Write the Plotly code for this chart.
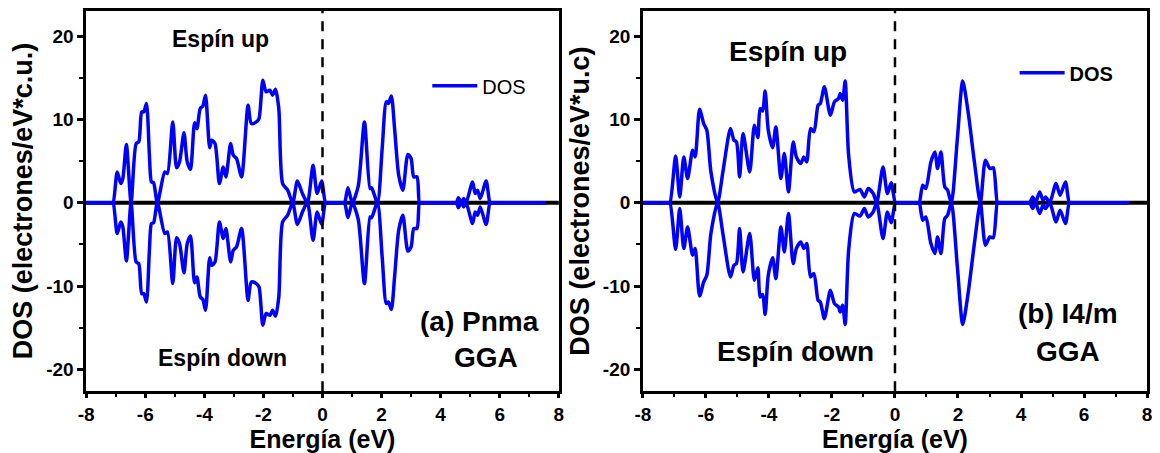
import plotly.graph_objects as go

# ---------------- data ----------------
# (a) Pnma, GGA : spin-up DOS (spin-down is the mirror image)
energy_a = [-8.0, -7.14, -7.09, -6.95, -6.83, -6.76, -6.64, -6.48, -6.31, -6.22, -6.12, -6.05, -5.96,
            -5.86, -5.79, -5.72, -5.59, -5.34, -5.25, -5.07, -4.94, -4.84, -4.69, -4.58, -4.47,
            -4.33, -4.25, -4.14, -4.05, -3.96, -3.82, -3.75, -3.64, -3.49, -3.36, -3.27, -3.11,
            -3.02, -2.91, -2.74, -2.52, -2.41, -2.24, -2.15, -2.02, -1.91, -1.78, -1.69, -1.59,
            -1.48, -1.35, -1.18, -1.01, -0.85, -0.68, -0.51, -0.32, -0.18, -0.03, 0.10, 0.15, 0.70, 0.75,
            0.86, 1.01, 1.21, 1.42, 1.61, 1.66, 1.86, 2.02, 2.16, 2.23, 2.33, 2.44, 2.58, 2.72,
            2.89, 3.00, 3.09, 3.20, 3.28, 3.33, 4.49, 4.54, 4.60, 4.70, 4.78, 4.86, 5.08, 5.17, 5.25, 5.34,
            5.54, 5.67, 5.72, 7.52, 7.57]
dos_up_a = [0, 0, 0, 3.7, 2.3, 2.9, 7.0, 0, 7.1, 7.3, 10.9, 10.9, 11.9,
            5.7, 2.5, 2.4, 0, 3.7, 3.5, 9.7, 4.2, 4.9, 8.4, 4.9, 4.0,
            9.6, 8.9, 11.3, 11.6, 12.9, 6.6, 7.5, 7.1, 2.3, 4.3, 3.1, 7.1,
            5.7, 5.3, 3.1, 11.7, 9.5, 9.7, 10.1, 14.7, 13.3, 13.5, 12.9, 13.6,
            11.3, 2.3, 1.5, 0, 2.6, 1.1, 0, 4.5, 1.1, 2.6, 0, 0, 0, 0,
            1.8, 0, 2.0, 9.7, 1.7, 1.8, 0, 6.5, 12.1, 11.9, 12.8, 8.9, 3.3, 1.5,
            5.8, 5.3, 3.1, 3.1, 0, 0, 0, 0, 0.6, 0, 0.5, 0, 2.5, 1.1, 1.5, 0.5,
            2.6, 0, 0, 0, 0]
dos_down_a = [-v for v in dos_up_a]

# (b) I4/m, GGA : spin-up DOS (spin-down is the mirror image)
energy_b = [-8.0, -7.19, -7.14, -6.96, -6.83, -6.70, -6.58, -6.42, -6.34, -6.20, -6.07, -5.97, -5.84,
            -5.63, -5.46, -5.22, -5.11, -5.03, -4.93, -4.82, -4.61, -4.46, -4.35, -4.28, -4.20,
            -4.12, -4.02, -3.88, -3.78, -3.62, -3.51, -3.38, -3.23, -3.13, -2.99, -2.89, -2.80,
            -2.68, -2.57, -2.44, -2.37, -2.24, -2.05, -1.92, -1.79, -1.74, -1.66, -1.58, -1.47,
            -1.29, -1.11, -0.97, -0.85, -0.69, -0.58, -0.38, -0.24, -0.12, 0.01, 0.06, 0.72, 0.77, 0.88,
            0.98, 1.14, 1.27, 1.35, 1.46, 1.58, 1.67, 1.79, 1.98, 2.15, 2.32, 2.52, 2.71, 2.87,
            3.01, 3.12, 3.25, 3.30, 4.23, 4.28, 4.37, 4.46, 4.59, 4.70, 4.78, 4.91, 5.11, 5.24, 5.41, 5.53,
            5.58, 7.37, 7.42]
dos_up_b = [0, 0, 0, 5.6, 0.7, 5.5, 2.9, 6.3, 5.5, 11.2, 9.5, 8.7, 3.7,
            0, 3.7, 8.9, 7.5, 7.3, 3.1, 8.3, 3.7, 9.3, 7.8, 11.3, 11.0,
            13.4, 8.7, 6.6, 9.1, 2.9, 5.9, 1.3, 7.3, 5.5, 4.7, 5.5, 4.9,
            8.9, 8.5, 11.7, 11.9, 13.9, 10.5, 12.1, 12.5, 13.1, 12.3, 14.6, 5.7,
            1.3, 1.6, 0.7, 1.7, 1.1, 0, 4.3, 1.1, 2.4, 0, 0, 0, 0, 2.1,
            1.7, 4.9, 6.1, 4.1, 6.1, 1.9, 1.5, 0, 7.7, 14.6, 10.9, 4.9, 0, 5.1,
            4.1, 4.2, 0, 0, 0, 0, 0.7, 0, 1.3, 0.3, 0.7, 0, 2.3, 0.9, 2.5, 0,
            0, 0, 0]
dos_down_b = [-v for v in dos_up_b]

x_ticks = [-8, -6, -4, -2, 0, 2, 4, 6, 8]
y_ticks = [-20, -10, 0, 10, 20]

# ---------------- styling ----------------
FONT = "Liberation Sans, Arial, sans-serif"
BLUE = "#0000ff"
# the page body adds an 8px margin, so the figure is 8px smaller than the window
OFF = 8
W, H = 1160 - OFF, 453 - OFF

def px(xpix):
    return (xpix - OFF) / W

def py(ypix):
    return 1 - (ypix - OFF) / H

fig = go.Figure()

line_style = dict(color=BLUE, width=3.5, shape="spline", smoothing=0.7)

fig.add_trace(go.Scatter(x=energy_a, y=dos_up_a, mode="lines", name="DOS", line=line_style,
                         xaxis="x", yaxis="y", legend="legend"))
fig.add_trace(go.Scatter(x=energy_a, y=dos_down_a, mode="lines", name="DOS", line=line_style,
                         xaxis="x", yaxis="y", showlegend=False))
fig.add_trace(go.Scatter(x=energy_b, y=dos_up_b, mode="lines", name="DOS", line=line_style,
                         xaxis="x2", yaxis="y2", legend="legend2"))
fig.add_trace(go.Scatter(x=energy_b, y=dos_down_b, mode="lines", name="DOS", line=line_style,
                         xaxis="x2", yaxis="y2", showlegend=False))

ydom = [py(391), py(10)]
yrange = [-22.6, 23]
xdom1 = [px(79), px(557)]
xdom2 = [px(642), px(1152)]

tickfont = dict(family=FONT, size=19, color="black", weight="bold")
xtitlefont = dict(family=FONT, size=25, color="black", weight="bold")
ytitlefont = dict(family=FONT, size=27, color="black", weight="bold")

def xaxis(dom, anchor):
    return dict(domain=dom, anchor=anchor, range=[-8, 8], tickvals=x_ticks,
                ticktext=[str(v) for v in x_ticks],
                showgrid=False, zeroline=False, showline=True, linecolor="black",
                linewidth=2.5, mirror=True, ticks="outside", ticklen=4, tickwidth=2.5,
                tickcolor="black", tickfont=tickfont,
                minor=dict(dtick=1, ticks="outside", ticklen=3, tickwidth=2, tickcolor="black"),
                title=dict(text="Energía (eV)", font=xtitlefont, standoff=6))

def yaxis(dom, anchor, title):
    return dict(domain=dom, anchor=anchor, range=yrange, tickvals=y_ticks,
                ticktext=[str(v) for v in y_ticks],
                showgrid=False, zeroline=False, showline=True, linecolor="black",
                linewidth=2.5, mirror=True, ticks="outside", ticklen=6, tickwidth=2.5,
                tickcolor="black", tickfont=tickfont,
                minor=dict(dtick=5, ticks="outside", ticklen=4, tickwidth=2, tickcolor="black"),
                title=dict(text=title, font=ytitlefont, standoff=6))

fig.update_layout(
    width=W, height=H,
    margin=dict(l=0, r=0, t=0, b=0),
    paper_bgcolor="white", plot_bgcolor="white",
    xaxis=xaxis(xdom1, "y"),
    yaxis=yaxis(ydom, "x", "DOS (electrones/eV*c.u.)"),
    xaxis2=xaxis(xdom2, "y2"),
    yaxis2=yaxis(ydom, "x2", "DOS (electrones/eV*u.c)"),
    legend=dict(x=px(424), y=py(85), xanchor="left", yanchor="middle",
                bgcolor="rgba(0,0,0,0)", itemwidth=45,
                font=dict(family=FONT, size=20, color="black")),
    legend2=dict(x=px(1018), y=py(72), xanchor="left", yanchor="middle",
                 bgcolor="rgba(0,0,0,0)", itemwidth=45,
                 font=dict(family=FONT, size=20, color="black", weight="bold")),
    showlegend=True,
)

# zero line and Fermi level (dashed)
for xr, yr in (("x", "y"), ("x2", "y2")):
    fig.add_shape(type="line", xref=xr + " domain", yref=yr, x0=0, x1=1, y0=0, y1=0,
                  line=dict(color="black", width=4), layer="below")
    fig.add_shape(type="line", xref=xr, yref=yr + " domain", x0=0, x1=0, y0=0, y1=1,
                  line=dict(color="black", width=2.5, dash="10px,8px"), layer="above")

def label(text, x, y, xr, yr, size):
    fig.add_annotation(text=text, x=x, y=y, xref=xr, yref=yr, showarrow=False,
                       font=dict(family=FONT, size=size, color="black", weight="bold"))

label("Espín up", -3.45, 19.6, "x", "y", 23)
label("Espín down", -3.4, -18.6, "x", "y", 23)
label("(a) Pnma", 5.3, -14.2, "x", "y", 28)
label("GGA", 5.55, -18.6, "x", "y", 28)

label("Espín up", -3.4, 18.1, "x2", "y2", 28)
label("Espín down", -3.15, -17.9, "x2", "y2", 28)
label("(b) I4/m", 5.5, -13.3, "x2", "y2", 28)
label("GGA", 5.5, -17.9, "x2", "y2", 28)

fig.write_html("out.html")
